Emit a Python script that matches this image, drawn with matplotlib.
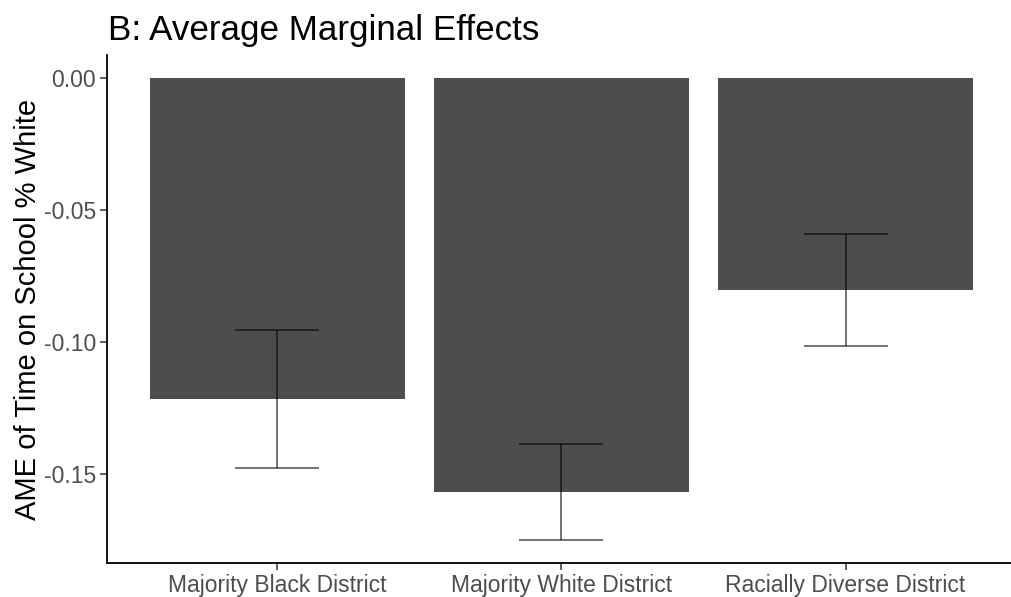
import numpy as np
import matplotlib
matplotlib.use('Agg')
import matplotlib.pyplot as plt

districts = ['Majority Black District', 'Majority White District', 'Racially Diverse District']
ame = [-0.1215, -0.1566, -0.0803]
ci_low = [-0.1475, -0.1748, -0.1015]
ci_high = [-0.0955, -0.1386, -0.0590]
yticks = [0.0, -0.05, -0.10, -0.15]
ytick_labels = ['0.00', '-0.05', '-0.10', '-0.15']

plt.rcParams['font.family'] = ['Liberation Sans', 'DejaVu Sans']

fig = plt.figure(figsize=(10.12, 5.97), dpi=100)
ax = fig.add_axes([107 / 1012, 34 / 597, 909 / 1012, 508 / 597])

x = np.arange(1, len(districts) + 1)
ax.bar(x, ame, width=0.9, color='#4d4d4d', zorder=1)

ame_arr = np.array(ame)
yerr = [ame_arr - np.array(ci_low), np.array(ci_high) - ame_arr]
ax.errorbar(x, ame, yerr=yerr, fmt='none', ecolor='black', alpha=0.55,
            elinewidth=1.4, capsize=30, capthick=1.4, zorder=2)

ax.set_xlim(0.4, 3.6)
ax.set_ylim(-0.1835, 0.0087)
ax.set_xticks(x)
ax.set_xticklabels(districts)
ax.set_yticks(yticks)
ax.set_yticklabels(ytick_labels)

for s in ['top', 'right']:
    ax.spines[s].set_visible(False)
for s in ['left', 'bottom']:
    ax.spines[s].set_linewidth(1.3)
    ax.spines[s].set_color('black')

ax.tick_params(axis='both', length=5, width=1.1, color='#333333',
               labelsize=16.5, labelcolor='#4d4d4d', pad=3)
ax.set_ylabel('AME of Time on School % White', fontsize=21, color='black', labelpad=1)
fig.text(108 / 1012, 1 - 40 / 597, 'B: Average Marginal Effects', fontsize=25.2, color='black',
         ha='left', va='baseline')

fig.savefig('out.png', dpi=100)
